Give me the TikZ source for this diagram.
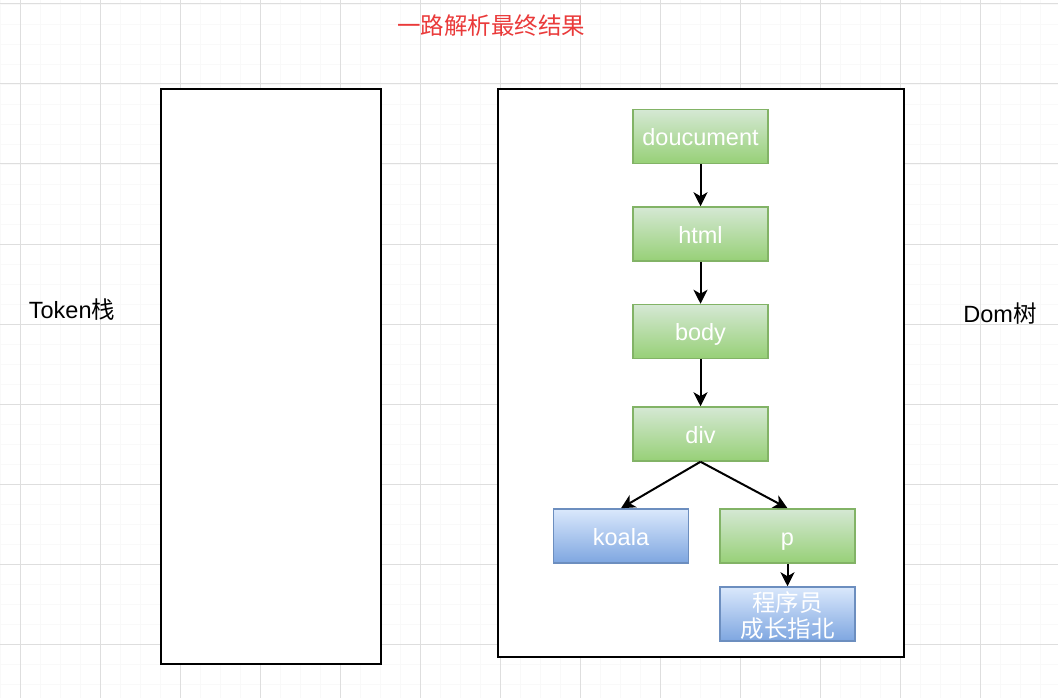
\documentclass[tikz,border=0pt]{standalone}
\usepackage{fontspec}
\setmainfont{Liberation Sans}
\newfontfamily\cjk{Noto Sans CJK SC}
\usetikzlibrary{arrows.meta,positioning}

\definecolor{greentop}{HTML}{D5E8D4}
\definecolor{greenbot}{HTML}{97D077}
\definecolor{greenline}{HTML}{82B366}
\definecolor{bluetop}{HTML}{DAE8FC}
\definecolor{bluebot}{HTML}{7EA6E0}
\definecolor{blueline}{HTML}{6C8EBF}
\definecolor{titlered}{HTML}{EA3A3A}

\begin{document}
\begin{tikzpicture}[x=1pt,y=-1pt]

    \tikzstyle{every node}=[font=\fontsize{23.5}{26}\selectfont, inner sep=0pt]
    \tikzstyle{minorgrid}=[draw=black!2.5, line width=0.8pt]
    \tikzstyle{majorgrid}=[draw=black!13, line width=1pt]
    \tikzstyle{frame}=[draw=black, line width=2.5pt]
    \tikzstyle{greenbox}=[draw=greenline, line width=1.5pt, top color=greentop, bottom color=greenbot,
                          minimum width=135pt, minimum height=54pt, text=white,
                          text height=21pt, text depth=3pt]
    \tikzstyle{bluebox}=[greenbox, draw=blueline, top color=bluetop, bottom color=bluebot]
    \tikzstyle{arrow}=[line width=2pt, -{Stealth[length=14pt,width=14pt,inset=4pt]}]
    \def\midx{700.5}

    \useasboundingbox (0,0) rectangle (1058,698);
    \fill[white] (0,0) rectangle (1058,698);

    % grid
    \foreach \gx in {0,20,...,1040} \draw[minorgrid] (\gx,0) -- (\gx,698);
    \foreach \gy in {4,24,...,684} \draw[minorgrid] (0,\gy) -- (1058,\gy);
    \foreach \gx in {20,100,...,980} \draw[majorgrid] (\gx,0) -- (\gx,698);
    \foreach \gy in {4,84,...,644} \draw[majorgrid] (0,\gy) -- (1058,\gy);

    \node[text=titlered] (title) at (491,26) {\cjk 一路解析最终结果};

    \node[frame, fill=white, minimum width=220pt, minimum height=575pt] (stack) at (271,376.5) {};
    \node[frame, fill=white, minimum width=406pt, minimum height=568pt] (tree) at (701,373) {};

    \node (stacklabel) at (72,310) {Token{\cjk 栈}};
    \node (treelabel) at (1000,314) {Dom{\cjk 树}};

    \node[greenbox] (doc)  at (\midx,136.5) {doucument};
    \node[greenbox] (html) at (\midx,234) {html};
    \node[greenbox] (body) at (\midx,331.5) {body};
    \node[greenbox] (div)  at (\midx,434) {div};
    \node[bluebox]  (koala) at (621,536) {koala};
    \node[greenbox] (p)    at (787.5,536) {p};
    \node[bluebox, align=center, text height=, text depth=] (author) at (787.5,614) {};
    \node[white, align=center] (authortext) at (787.5,616) {\cjk 程序员\\\cjk 成长指北};

    \draw[arrow] (doc) -- (html);
    \draw[arrow] (html) -- (body);
    \draw[arrow] (body) -- (div);
    \draw[arrow] (div.south) -- (koala.north);
    \draw[arrow] (div.south) -- (p.north);
    \draw[arrow] (p) -- (author);

\end{tikzpicture}
\end{document}
